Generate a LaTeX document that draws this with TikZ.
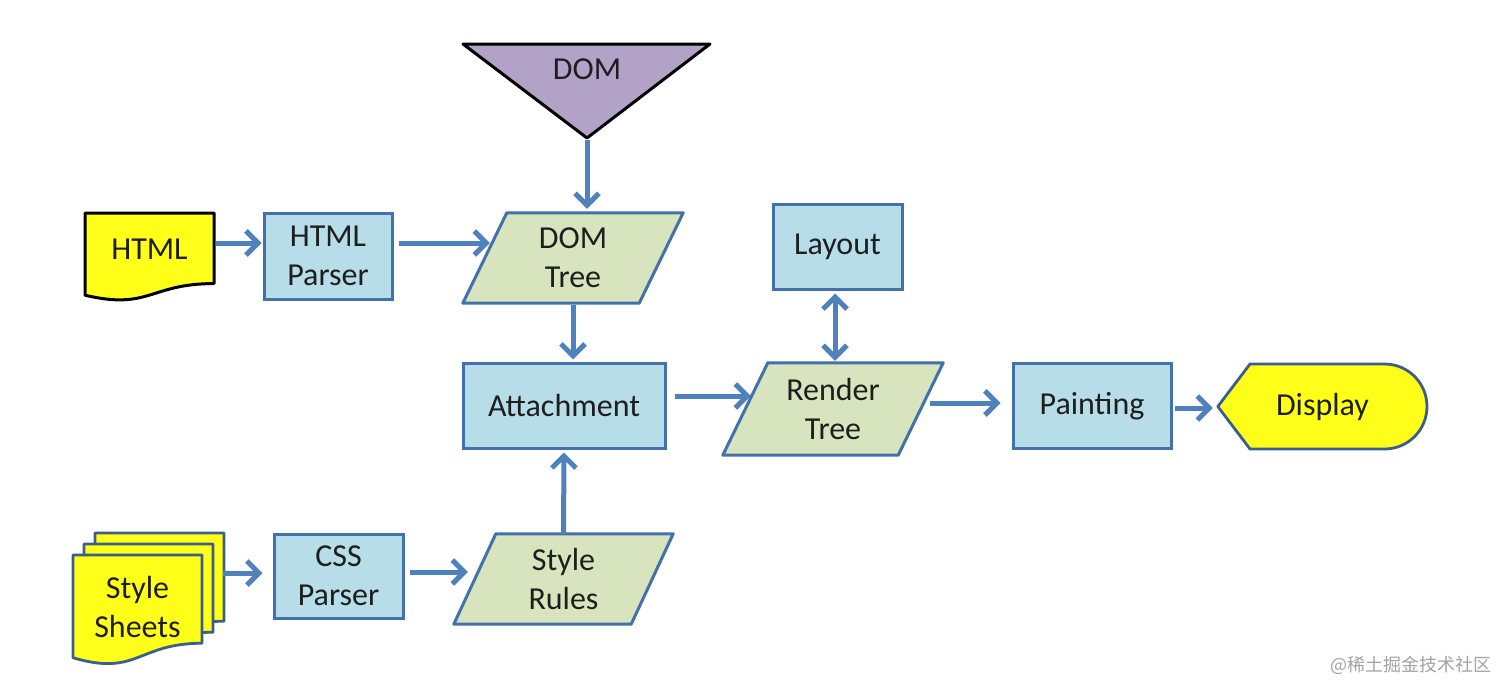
\documentclass[tikz,border=0pt]{standalone}
\usepackage{fontspec}
\setmainfont{Carlito}
\newfontfamily\cjkfont{Noto Sans CJK SC}
\usetikzlibrary{arrows.meta,backgrounds}
\definecolor{boxfill}{HTML}{B7DDE8}
\definecolor{boxdraw}{HTML}{4271AB}
\definecolor{parafill}{HTML}{D7E4BD}
\definecolor{trifill}{HTML}{B3A2C7}
\definecolor{docfill}{HTML}{FFFF1A}
\definecolor{docdraw}{HTML}{3B5E8C}
\definecolor{arrc}{HTML}{4F81BD}
\definecolor{txt}{HTML}{1E1E1E}
\definecolor{wm}{HTML}{A3A3A3}
\newcommand\docpath[4]{(#1,#2) -- ({#1+#3},#2) -- ({#1+#3},{#2+0.802*#4}) .. controls ({#1+0.5*#3},{#2+0.802*#4}) and ({#1+0.5*#3},{#2+1.107*#4}) .. (#1,{#2+0.934*#4}) -- cycle}
\newcommand\parapath[2]{([xshift=#2]#1.north west) -- (#1.north east) -- ([xshift=-#2]#1.south east) -- (#1.south west) -- cycle}
\begin{document}
\begin{tikzpicture}[x=1pt,y=-1pt,
  lbl/.style={align=center,text=txt,font=\fontsize{32}{39}\selectfont,inner sep=0pt},
  box/.style={lbl,draw=boxdraw,fill=boxfill,line width=3pt},
  hold/.style={lbl,draw=none},
  para/.style={draw=boxdraw,fill=parafill,line width=3pt,line join=round},
  docsh/.style={fill=docfill,draw=docdraw,line width=2.8pt,line join=round},
  arr/.style={draw=arrc,line width=5pt,-{Straight Barb[length=12pt,width=24pt]}},
  darr/.style={draw=arrc,line width=5pt,{Straight Barb[length=12pt,width=24pt]}-{Straight Barb[length=12pt,width=24pt]}}
]
\useasboundingbox (0,0) rectangle (1512,696);

% nodes
\node[lbl] (dom) at (587,69) {DOM};
\coordinate (domtip) at (587,138);
\node[hold,minimum width=129pt,minimum height=72pt] (html) at (149.5,249) {HTML};
\node[box,minimum width=128pt,minimum height=86pt] (hparser) at (328,256) {HTML\\Parser};
\node[hold,minimum width=220pt,minimum height=90pt] (domtree) at (573,258) {DOM\\Tree};
\node[box,minimum width=129pt,minimum height=85pt] (layout) at (837.5,246.5) {Layout};
\node[box,minimum width=202pt,minimum height=85pt] (attach) at (564,405.5) {Attachment};
\node[hold,minimum width=220pt,minimum height=92pt] (rtree) at (833,409) {Render\\Tree};
\node[box,minimum width=158pt,minimum height=85pt] (paint) at (1092,406) {Painting};
\node[hold,minimum width=209pt,minimum height=85pt] (disp) at (1322.5,406.5) {Display};
\node[hold,minimum width=129pt,minimum height=80pt] (sheets) at (137.5,607) {Style\\Sheets};
\node[box,minimum width=129pt,minimum height=84pt] (cssp) at (338.5,576) {CSS\\Parser};
\node[hold,minimum width=219pt,minimum height=90pt] (srules) at (563.5,579) {Style\\Rules};
\node[text=wm,font=\cjkfont\fontsize{18}{20}\selectfont,inner sep=0pt] (wmark) at (1411,665) {@稀土掘金技术社区};

% shapes behind the texts
\begin{scope}[on background layer]
\fill[white] (0,0) rectangle (1512,696);
\filldraw[fill=trifill,draw=black,line width=3pt,line join=round] (463,44) -- (710,44) -- (domtip) -- cycle;
\filldraw[docsh,draw=black,line width=3pt] \docpath{85}{213}{129}{88};
\filldraw[docsh] \docpath{95}{533}{129}{110};
\filldraw[docsh] \docpath{84}{544}{129}{110};
\filldraw[docsh] \docpath{73}{555}{129}{110};
\filldraw[para] \parapath{domtree}{44};
\filldraw[para] \parapath{rtree}{45};
\filldraw[para] \parapath{srules}{42};
\filldraw[docsh] (disp.west) -- (1250,364) -- (1384.5,364) .. controls (1408,364) and (1427,383) .. (1427,406.5) .. controls (1427,430) and (1408,449) .. (1384.5,449) -- (1250,449) -- cycle;
\end{scope}

% connectors
\draw[arr] ([xshift=2pt,yshift=6pt]html.east) -- ([xshift=-1pt,yshift=13pt]hparser.west);
\draw[arr] ([xshift=5pt,yshift=13pt]hparser.east) -- ([xshift=27pt,yshift=15pt]domtree.west);
\draw[arr] ([yshift=-2pt]domtip) -- ([xshift=14pt,yshift=4pt]domtree.north);
\draw[arr] ([yshift=-2pt]domtree.south) -- ([xshift=9pt,yshift=2pt]attach.north);
\draw[arr] ([xshift=8pt,yshift=9.5pt]attach.east) -- ([xshift=28pt,yshift=13pt]rtree.west);
\draw[darr] ([xshift=2pt,yshift=2pt]rtree.north) -- ([xshift=-2.5pt,yshift=-3pt]layout.south);
\draw[arr] ([xshift=-13pt,yshift=6pt]rtree.east) -- ([xshift=-11pt,yshift=3pt]paint.west);
\draw[arr] ([xshift=2pt,yshift=-2pt]paint.east) -- ([xshift=-5pt,yshift=-1.5pt]disp.west);
\draw[arr] ([xshift=21pt,yshift=34pt]sheets.east) -- ([xshift=-10pt,yshift=3pt]cssp.west);
\draw[arr] ([xshift=5pt,yshift=4pt]cssp.east) -- ([xshift=14pt,yshift=7pt]srules.west);
\draw[arr] (srules.north) -- ([yshift=-3pt]attach.south);
\end{tikzpicture}
\end{document}
